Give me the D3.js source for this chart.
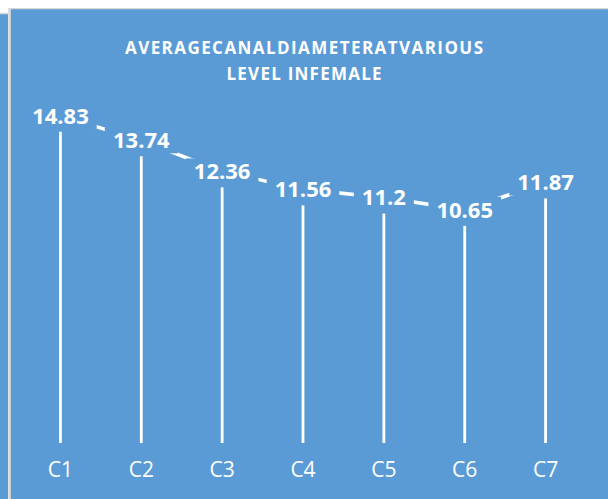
<!DOCTYPE html>
<html>
<head>
<meta charset="utf-8">
<script src="https://cdn.jsdelivr.net/npm/d3@7"></script>
<style>
  html, body { margin: 0; padding: 0; background: #ffffff; }
  svg { display: block; }
</style>
</head>
<body>
<script>
// Average canal diameter per cervical level (female)
const categories = ["C1", "C2", "C3", "C4", "C5", "C6", "C7"];
const values = [14.83, 13.74, 12.36, 11.56, 11.2, 10.65, 11.87];
const titleLines = ["AVERAGECANALDIAMETERATVARIOUS", "LEVEL INFEMALE"];
const yDomain = [1, 16];

const W = 608, H = 499;
const blue = "#5B9BD5";
const border = "#D6D6D6";

const svg = d3.select("body").append("svg")
  .attr("width", W).attr("height", H);

// side strip and chart panel
svg.append("rect").attr("x", 0).attr("y", 14).attr("width", 8).attr("height", H - 14).attr("fill", blue);
svg.append("line").attr("x1", 0).attr("x2", 8).attr("y1", 13.5).attr("y2", 13.5)
  .attr("stroke", border).attr("stroke-width", 1.5);
svg.append("rect").attr("x", 9).attr("y", 8.5).attr("width", W - 9).attr("height", H - 8.5).attr("fill", blue);
svg.append("line").attr("x1", 9.6).attr("x2", 9.6).attr("y1", 8).attr("y2", H)
  .attr("stroke", border).attr("stroke-width", 2.6);
svg.append("line").attr("x1", 9).attr("x2", W).attr("y1", 8.6).attr("y2", 8.6)
  .attr("stroke", border).attr("stroke-width", 1.4);

// title
const titleWidths = [358, 155];
svg.append("g").selectAll("text").data(titleLines).join("text")
  .attr("x", 304)
  .attr("y", (d, i) => 54 + i * 26)
  .attr("text-anchor", "middle")
  .attr("textLength", (d, i) => titleWidths[i])
  .attr("lengthAdjust", "spacing")
  .attr("fill", "#ffffff")
  .style("font-family", "'Open Sans', sans-serif")
  .style("font-weight", "700")
  .style("font-size", "17px")
  .text(d => d);

// scales
const x = d3.scaleBand().domain(categories).range([20, 586]).padding(0);
const y = d3.scaleLinear().domain(yDomain).range([443, 105.5]);
const cx = c => x(c) + x.bandwidth() / 2;
const labelLift = 16;

const data = categories.map((c, i) => ({ c, v: values[i] }));

// drop lines from each point to the category axis
svg.append("g").selectAll("line").data(data).join("line")
  .attr("x1", d => cx(d.c)).attr("x2", d => cx(d.c))
  .attr("y1", d => y(d.v)).attr("y2", y(yDomain[0]))
  .attr("stroke", "#ffffff").attr("stroke-width", 2.8);

// connecting line through the label anchors
const line = d3.line().x(d => cx(d.c)).y(d => y(d.v) - labelLift);
svg.append("path").datum(data)
  .attr("d", line)
  .attr("fill", "none")
  .attr("stroke", "#ffffff")
  .attr("stroke-width", 3.6);

// value labels with filled backgrounds
const fs = 22;
const lg = svg.append("g").selectAll("g").data(data).join("g")
  .attr("transform", d => `translate(${cx(d.c)},${y(d.v) - labelLift})`);
const bg = lg.append("rect").attr("fill", blue);
const lt = lg.append("text")
  .attr("text-anchor", "middle")
  .attr("y", fs * 0.357)
  .attr("fill", "#ffffff")
  .style("font-family", "'Open Sans', sans-serif")
  .style("font-weight", "700")
  .style("font-size", fs + "px")
  .text(d => d.v);
lt.each(function () {
  const b = this.getBBox();
  d3.select(this.previousSibling)
    .attr("x", -b.width / 2 - 8).attr("width", b.width + 16)
    .attr("y", -13).attr("height", 26);
});

// category axis labels
const xAxis = d3.axisBottom(x).tickSize(0).tickPadding(0);
const ax = svg.append("g").attr("transform", "translate(0,462)").call(xAxis);
ax.select(".domain").remove();
ax.selectAll("text")
  .attr("fill", "#ffffff")
  .attr("dy", "0.72em")
  .style("font-family", "'Open Sans', sans-serif")
  .style("font-size", "21px");
</script>
</body>
</html>
